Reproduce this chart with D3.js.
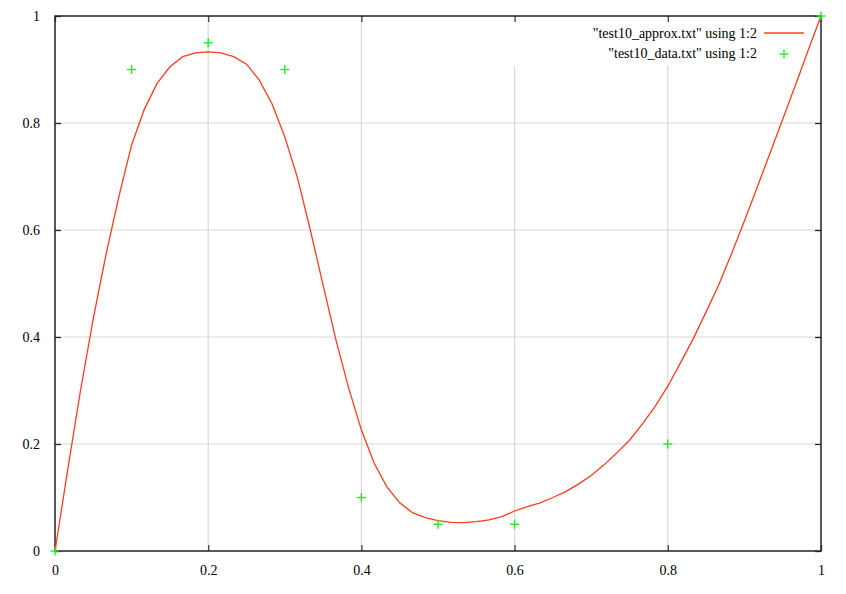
<!DOCTYPE html>
<html>
<head>
<meta charset="utf-8">
<script src="https://cdn.jsdelivr.net/npm/d3@7"></script>
<style>
html,body{margin:0;padding:0;background:#fff;}
svg{display:block;}
text{font-family:"Liberation Serif","Times New Roman",Times,serif;font-size:14px;fill:#000;}
</style>
</head>
<body>
<svg id="chart" width="846" height="594"></svg>
<script>
// ---- data ----
const approxX = [0,0.0167,0.0333,0.05,0.0667,0.0833,0.1,0.1167,0.1333,0.15,0.1667,0.1833,0.2,0.2167,0.2333,0.25,0.2667,0.2833,0.3,0.3167,0.3333,0.35,0.3667,0.3833,0.4,0.4167,0.4333,0.45,0.4667,0.4833,0.5,0.5167,0.5333,0.55,0.5667,0.5833,0.6,0.6167,0.6333,0.65,0.6667,0.6833,0.7,0.7167,0.7333,0.75,0.7667,0.7833,0.8,0.8167,0.8333,0.85,0.8667,0.8833,0.9,0.9167,0.9333,0.95,0.9667,0.9833,1];
const approxY = [0,0.153,0.30,0.435,0.555,0.662,0.759,0.826,0.874,0.905,0.924,0.931,0.933,0.931,0.924,0.910,0.880,0.836,0.774,0.697,0.600,0.497,0.395,0.305,0.226,0.164,0.120,0.090,0.0716,0.0623,0.0567,0.0536,0.0529,0.0548,0.058,0.0641,0.0748,0.0829,0.090,0.100,0.111,0.125,0.141,0.161,0.183,0.207,0.237,0.270,0.308,0.352,0.397,0.447,0.498,0.556,0.617,0.680,0.743,0.807,0.871,0.936,1.0];
const dataX = [0,0.1,0.2,0.3,0.4,0.5,0.6,0.8,1];
const dataY = [0,0.9,0.95,0.9,0.1,0.05,0.05,0.2,1];
const xTicks = [0,0.2,0.4,0.6,0.8,1];
const yTicks = [0,0.2,0.4,0.6,0.8,1];
const legendLabels = ['"test10_approx.txt" using 1:2','"test10_data.txt" using 1:2'];

// ---- layout ----
const L = 55, R = 821, T = 16, B = 551;
const x = d3.scaleLinear().domain([0,1]).range([L,R]);
const y = d3.scaleLinear().domain([0,1]).range([B,T]);
const svg = d3.select("#chart");
const curveColor = "#ff3c1e", dataColor = "#22ee22", gridColor = "#d8d8d8";
const keyBottom = 66, keyLeft = 500;
const fontFam = "Liberation Serif, Times New Roman, Times, serif";

// grid
const grid = svg.append("g");
grid.selectAll("line.h").data(yTicks.filter(d=>d>0 && d<1)).enter().append("line")
  .attr("x1",L).attr("x2",R).attr("y1",d=>y(d)).attr("y2",d=>y(d))
  .attr("stroke",gridColor).attr("stroke-width",1);
grid.selectAll("line.v").data(xTicks.filter(d=>d>0 && d<1)).enter().append("line")
  .attr("x1",d=>x(d)).attr("x2",d=>x(d))
  .attr("y1",d=>x(d)>keyLeft ? keyBottom : T).attr("y2",B)
  .attr("stroke",gridColor).attr("stroke-width",1.2);

// axes (inward ticks)
const tk = 6;
svg.append("g").attr("transform",`translate(0,${B})`)
  .call(d3.axisBottom(x).tickValues(xTicks).tickFormat(d3.format("~g")).tickSizeInner(-tk).tickSizeOuter(0).tickPadding(14))
  .call(g=>{g.select(".domain").remove();g.selectAll("line").attr("stroke","#444").attr("stroke-width",1.3);
    g.attr("font-family",fontFam).attr("font-size",14);
    g.selectAll("text").attr("fill","#000");});
svg.append("g").attr("transform",`translate(0,${T})`)
  .call(d3.axisTop(x).tickValues(xTicks).tickFormat("").tickSizeInner(-tk).tickSizeOuter(0))
  .call(g=>{g.select(".domain").remove();g.selectAll("line").attr("stroke","#444").attr("stroke-width",1.3);});
svg.append("g").attr("transform",`translate(${L},0)`)
  .call(d3.axisLeft(y).tickValues(yTicks).tickFormat(d3.format("~g")).tickSizeInner(-tk).tickSizeOuter(0).tickPadding(15))
  .call(g=>{g.select(".domain").remove();g.selectAll("line").attr("stroke","#222").attr("stroke-width",1.3);
    g.attr("font-family",fontFam).attr("font-size",14);
    g.selectAll("text").attr("fill","#000");});
svg.append("g").attr("transform",`translate(${R},0)`)
  .call(d3.axisRight(y).tickValues(yTicks).tickFormat("").tickSizeInner(-tk).tickSizeOuter(0))
  .call(g=>{g.select(".domain").remove();g.selectAll("line").attr("stroke","#222").attr("stroke-width",1.3);});

// frame
svg.append("rect").attr("x",L).attr("y",T).attr("width",R-L).attr("height",B-T)
  .attr("fill","none").attr("stroke","#222").attr("stroke-width",1.5);

// curve
const pts = approxX.map((v,i)=>[v,approxY[i]]);
svg.append("path").datum(pts)
  .attr("d",d3.line().x(d=>x(d[0])).y(d=>y(d[1])))
  .attr("fill","none").attr("stroke",curveColor).attr("stroke-width",1.3);

// data pluses
const plus = (g, cx, cy) => {
  g.append("line").attr("x1",cx-4.5).attr("x2",cx+4.5).attr("y1",cy).attr("y2",cy);
  g.append("line").attr("x1",cx).attr("x2",cx).attr("y1",cy-4.5).attr("y2",cy+4.5);
};
const pg = svg.append("g").attr("stroke",dataColor).attr("stroke-width",1.4);
dataX.forEach((v,i)=>plus(pg, x(v), y(dataY[i])));

// legend
const lg = svg.append("g");
lg.append("text").attr("x",757).attr("y",38).attr("text-anchor","end").text(legendLabels[0]);
lg.append("text").attr("x",757).attr("y",58).attr("text-anchor","end").text(legendLabels[1]);
lg.append("line").attr("x1",764).attr("x2",804).attr("y1",33).attr("y2",33)
  .attr("stroke",curveColor).attr("stroke-width",1.3);
const lp = lg.append("g").attr("stroke",dataColor).attr("stroke-width",1.4);
plus(lp, 784, 54);
</script>
</body>
</html>
